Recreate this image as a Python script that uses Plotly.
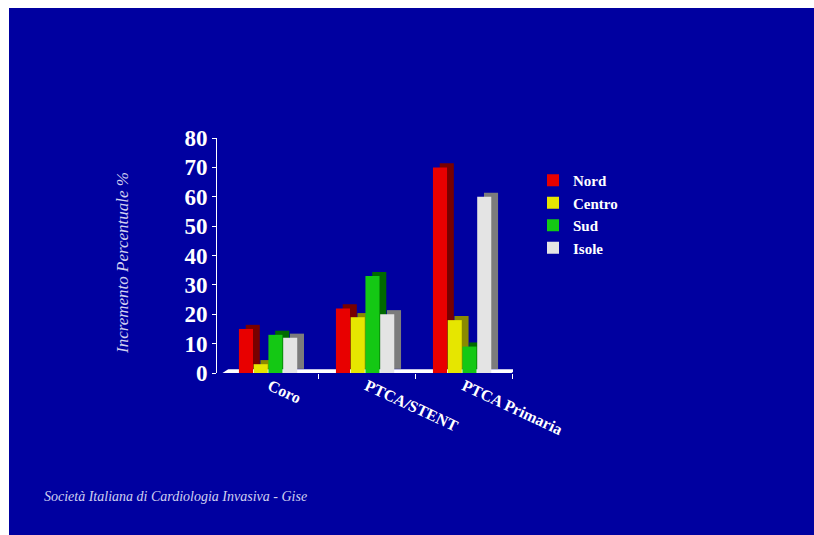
import plotly.graph_objects as go

categories = ["Coro", "PTCA/STENT", "PTCA Primaria"]
series_names = ["Nord", "Centro", "Sud", "Isole"]
nord = [15, 22, 70]
centro = [3, 19, 18]
sud = [13, 33, 9]
isole = [12, 20, 60]
y_ticks = [0, 10, 20, 30, 40, 50, 60, 70, 80]

values = [nord, centro, sud, isole]
front_colors = ["#E80000", "#E6E600", "#14C814", "#E4E4E4"]
side_colors = ["#780000", "#8A8A00", "#006A00", "#7C7C7C"]

BG = "#0000A0"
xpos = list(range(len(categories)))
W = 0.145
DX = 0.07
DY = 1.4

fig = go.Figure()
for i, (name, vals) in enumerate(zip(series_names, values)):
    off = -0.32 + i * 0.152
    fig.add_trace(go.Bar(
        x=xpos, y=vals, base=DY, offset=off + DX, width=W,
        marker=dict(color=side_colors[i], line=dict(width=0)),
        showlegend=False, hoverinfo="skip"))
    fig.add_trace(go.Bar(
        x=xpos, y=vals, offset=off, width=W, name=name,
        marker=dict(color=front_colors[i], line=dict(width=0))))

# floor slab
fig.add_shape(type="path", xref="x", yref="y",
              path="M -0.49,0 L 2.49,0 L 2.55,1.3 L -0.43,1.3 Z",
              fillcolor="white", line=dict(width=0), layer="below")

OX, OY = 9, 8          # white slide border (left/top)
FW, FH = 814 - OX, 535 - OY
fig.update_layout(
    width=FW, height=FH,
    paper_bgcolor=BG, plot_bgcolor=BG,
    barmode="overlay",
    margin=dict(l=217 - OX, r=FW - (513 - OX), t=138 - OY, b=FH - (373 - OY),
                autoexpand=False),
    showlegend=True,
    legend=dict(xref="container", yref="container", x=(533 - OX) / FW,
                y=1 - (164 - OY) / FH, xanchor="left", yanchor="top",
                bgcolor="rgba(0,0,0,0)", tracegroupgap=0,
                font=dict(family="Liberation Serif", size=15, color="white", weight="bold")),
    xaxis=dict(range=[-0.546, 2.505], tickvals=xpos, ticktext=categories,
               tickangle=25, ticks="", showgrid=False, zeroline=False,
               showline=False, automargin=False,
               tickfont=dict(family="Liberation Serif", size=16, color="white", weight="bold"),
               minor=dict(tickvals=[0.5, 1.5, 2.5], ticks="outside", ticklen=5,
                          tickcolor="white", showgrid=False)),
    yaxis=dict(range=[0, 80], tickvals=y_ticks, showgrid=False, zeroline=False,
               showline=True, linecolor="white", linewidth=1, automargin=False,
               ticks="outside", ticklen=4, tickcolor="white",
               tickfont=dict(family="Liberation Serif", size=23, color="white", weight="bold")),
)

fig.add_annotation(text="<i>Incremento Percentuale %</i>", xref="paper", yref="paper",
                   x=(122 - 217) / 296, y=(373 - 263) / 235, textangle=-90,
                   showarrow=False, xanchor="center", yanchor="middle",
                   font=dict(family="Liberation Serif", size=17, color="#D0D0F0"))
fig.add_annotation(text="<i>Società Italiana di Cardiologia Invasiva - Gise</i>",
                   xref="paper", yref="paper",
                   x=(42 - 217) / 296, y=(373 - 497) / 235,
                   showarrow=False, xanchor="left", yanchor="middle",
                   font=dict(family="Liberation Serif", size=14, color="#D0D0F0"))

post = ("document.body.style.margin='%dpx 0 0 %dpx';"
        "document.body.style.overflow='hidden';"
        "document.body.style.background='white';") % (OY, OX)
fig.write_html("out.html", post_script=post)
